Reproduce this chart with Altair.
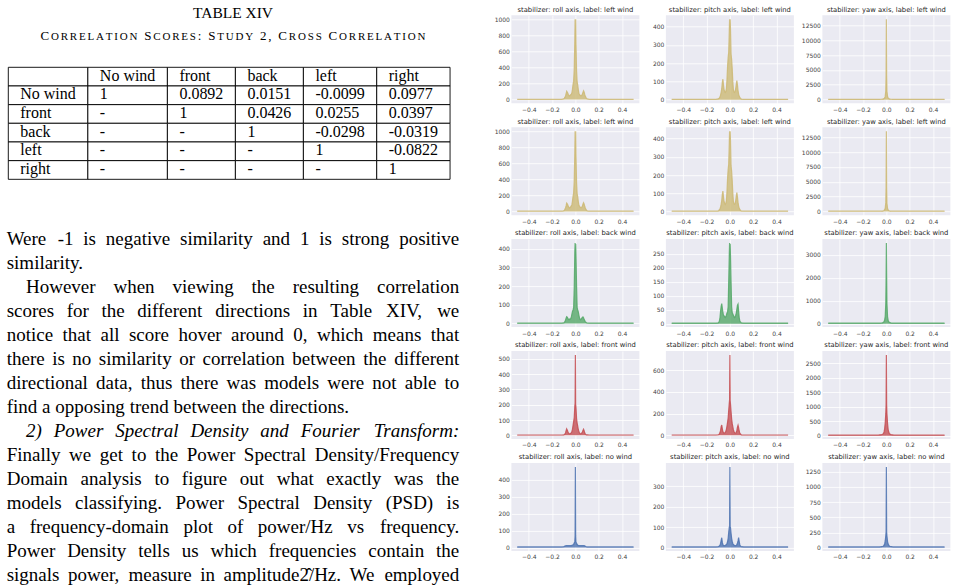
import altair as alt
import pandas as pd

# ---------------- content: correlation table ----------------
table_title = "TABLE XIV"
table_caption = "Correlation Scores: Study 2, Cross Correlation"
table_header = ["", "No wind", "front", "back", "left", "right"]
table_row_labels = ["No wind", "front", "back", "left", "right"]
table_values = [
    ["1", "0.0892", "0.0151", "-0.0099", "0.0977"],
    ["-", "1", "0.0426", "0.0255", "0.0397"],
    ["-", "-", "1", "-0.0298", "-0.0319"],
    ["-", "-", "-", "1", "-0.0822"],
    ["-", "-", "-", "-", "1"],
]

# ---------------- content: body text ----------------
body_lines = [
    "Were -1 is negative similarity and 1 is strong positive",
    "similarity.",
    "However when viewing the resulting correlation",
    "scores for the different directions in Table XIV, we",
    "notice that all score hover around 0, which means that",
    "there is no similarity or correlation between the different",
    "directional data, thus there was models were not able to",
    "find a opposing trend between the directions.",
    "2) Power Spectral Density and Fourier Transform:",
    "Finally we get to the Power Spectral Density/Frequency",
    "Domain analysis to figure out what exactly was the",
    "models classifying. Power Spectral Density (PSD) is",
    "a frequency-domain plot of power/Hz vs frequency.",
    "Power Density tells us which frequencies contain the",
    "signals power, measure in amplitude2\u0302/Hz. We employed",
]
indented_lines = [2, 8]
italic_lines = [8]
ragged_lines = [1, 7]

# ---------------- content: spectra ----------------
freqs = [-0.5, -0.12, -0.1, -0.095, -0.09, -0.085, -0.08, -0.075, -0.07, -0.065,
         -0.06, -0.055, -0.05, -0.045, -0.04, -0.035, -0.03, -0.025, -0.02, -0.015,
         -0.01, -0.005, -0.0025, 0.0, 0.0025, 0.005, 0.01, 0.015, 0.02, 0.025,
         0.03, 0.035, 0.04, 0.045, 0.05, 0.055, 0.06, 0.065, 0.07, 0.075,
         0.08, 0.085, 0.09, 0.095, 0.1, 0.12, 0.5]

psd_left_roll = [4, 4, 10, 18, 28, 45, 70, 105, 95, 80, 60, 50, 45, 55, 60, 70, 85, 130, 190, 230, 380, 720, 1000,
                 880,
                 1000, 700, 360, 220, 185, 125, 80, 65, 55, 50, 48, 55, 70, 90, 110, 95, 65, 45, 30, 18, 10, 4, 4]
psd_left_pitch = [2, 2, 4, 6, 10, 15, 25, 40, 60, 95, 112, 80, 55, 45, 40, 45, 60, 110, 180, 230, 260, 380, 440,
                  400,
                  440, 390, 250, 220, 170, 100, 55, 42, 40, 45, 60, 85, 104, 80, 50, 30, 20, 12, 8, 5, 3, 2, 2]
psd_left_yaw = [60, 60, 60, 60, 60, 60, 60, 60, 60, 60, 60, 60, 65, 70, 75, 85, 100, 130, 190, 300, 550, 1500, 4200,
                13500,
                4000, 1400, 520, 290, 180, 125, 95, 80, 72, 66, 62, 60, 60, 60, 60, 60, 60, 60, 60, 60, 60, 60, 60]
psd_back_roll = [2, 2, 3, 5, 10, 18, 28, 36, 34, 28, 22, 20, 24, 22, 25, 35, 50, 65, 72, 85, 190, 380, 430,
                 400,
                 425, 370, 200, 85, 72, 62, 45, 30, 22, 20, 24, 28, 32, 35, 30, 22, 15, 10, 6, 4, 3, 2, 2]
psd_back_pitch = [2, 2, 3, 5, 10, 22, 45, 62, 72, 55, 40, 30, 28, 25, 22, 25, 30, 38, 42, 60, 150, 250, 288,
                  250,
                  285, 245, 150, 60, 40, 35, 30, 25, 22, 24, 30, 38, 52, 66, 70, 45, 22, 10, 6, 4, 3, 2, 2]
psd_back_yaw = [25, 25, 25, 25, 25, 25, 25, 25, 25, 25, 25, 25, 28, 30, 32, 38, 45, 60, 90, 160, 320, 900, 2000,
                3500,
                2050, 880, 300, 150, 85, 58, 44, 36, 31, 28, 26, 25, 25, 25, 25, 25, 25, 25, 25, 25, 25, 25, 25]
psd_front_roll = [2, 2, 3, 5, 8, 15, 30, 42, 35, 25, 16, 12, 10, 11, 13, 18, 25, 40, 65, 90, 115, 190, 210,
                  525,
                  200, 185, 110, 80, 60, 38, 24, 16, 12, 10, 12, 15, 22, 32, 40, 30, 16, 8, 5, 3, 3, 2, 2]
psd_front_pitch = [3, 3, 5, 8, 14, 25, 45, 80, 95, 60, 35, 25, 20, 22, 28, 38, 55, 85, 120, 160, 230, 300, 330,
                   740,
                   320, 290, 220, 150, 110, 80, 52, 36, 26, 20, 20, 28, 45, 75, 92, 70, 40, 22, 12, 7, 4, 3, 3]
psd_front_yaw = [25, 25, 25, 25, 25, 25, 25, 25, 25, 26, 28, 30, 32, 35, 40, 48, 60, 80, 130, 240, 450, 780, 1100,
                 2790,
                 1050, 760, 420, 220, 125, 82, 58, 46, 39, 34, 30, 28, 26, 25, 25, 25, 25, 25, 25, 25, 25, 25, 25]
psd_none_roll = [3, 3, 4, 6, 8, 9, 10, 10, 10, 10, 10, 10, 10, 10, 11, 11, 12, 13, 15, 18, 26, 34, 70,
                 475,
                 68, 32, 25, 17, 14, 12, 11, 11, 10, 10, 10, 10, 10, 10, 10, 10, 9, 7, 5, 4, 3, 3, 3]
psd_none_pitch = [3, 3, 4, 6, 8, 12, 20, 35, 48, 25, 14, 10, 9, 9, 10, 12, 15, 20, 28, 45, 75, 100, 105,
                  395,
                  102, 98, 70, 45, 30, 20, 15, 12, 10, 9, 9, 11, 14, 22, 32, 48, 30, 14, 8, 5, 4, 3, 3]
psd_none_yaw = [12, 12, 12, 12, 12, 12, 12, 12, 12, 12, 12, 13, 14, 15, 16, 18, 22, 28, 40, 60, 110, 200, 260,
                1330,
                250, 190, 100, 58, 40, 28, 21, 18, 16, 15, 14, 13, 12, 12, 12, 12, 12, 12, 12, 12, 12, 12, 12]

panel_series = [
    [psd_left_roll, psd_left_pitch, psd_left_yaw],
    [psd_left_roll, psd_left_pitch, psd_left_yaw],
    [psd_back_roll, psd_back_pitch, psd_back_yaw],
    [psd_front_roll, psd_front_pitch, psd_front_yaw],
    [psd_none_roll, psd_none_pitch, psd_none_yaw],
]
panel_labels = ["left wind", "left wind", "back wind", "front wind", "no wind"]
panel_axes = ["roll", "pitch", "yaw"]
panel_colors = ["#CCB974", "#CCB974", "#55A868", "#C44E52", "#4C72B0"]
ytick_steps = [[200, 100, 2500], [200, 100, 2500], [100, 50, 1000], [100, 200, 500], [100, 100, 250]]
x_ticks = [-0.4, -0.2, 0.0, 0.2, 0.4]

for row in panel_series:
    for s in row:
        assert len(s) == len(freqs)

# ---------------- text metrics (Times / Liberation Serif advance widths) ----------------
_ROMAN = {' ': 250, '!': 333, '(': 333, ')': 333, ',': 250, '-': 333, '.': 250, '/': 278, ':': 278,
          'A': 722, 'B': 667, 'C': 667, 'D': 722, 'E': 611, 'F': 556, 'G': 722, 'H': 722, 'I': 333,
          'J': 389, 'K': 722, 'L': 611, 'M': 889, 'N': 722, 'O': 722, 'P': 556, 'Q': 722, 'R': 667,
          'S': 556, 'T': 611, 'U': 722, 'V': 722, 'W': 944, 'X': 722, 'Y': 722, 'Z': 611,
          'a': 444, 'b': 500, 'c': 444, 'd': 500, 'e': 444, 'f': 333, 'g': 500, 'h': 500, 'i': 278,
          'j': 278, 'k': 500, 'l': 278, 'm': 778, 'n': 500, 'o': 500, 'p': 500, 'q': 500, 'r': 333,
          's': 389, 't': 278, 'u': 500, 'v': 500, 'w': 722, 'x': 500, 'y': 500, 'z': 444}
_ITALIC = {':': 333, 'P': 611, 'S': 500, 'D': 722, 'F': 611, 'T': 556, 'a': 500, 'k': 444, 'm': 722,
           'r': 389, 'v': 444, 'w': 667, 'x': 444, 'y': 444, 'z': 389}


def text_width(s, size, italic=False):
    tot = 0
    for ch in s:
        if ch == "\u0302":
            continue
        if italic and ch in _ITALIC:
            tot += _ITALIC[ch]
        else:
            tot += _ROMAN.get(ch, 500)
    return tot * size / 1000.0


# ---------------- left page layout (origin = top of first spectrum plot row) ----------------
SERIF = "Liberation Serif"
W, H = 452.6, 573
BODY_FS, TABLE_FS, TITLE_FS = 19, 16, 15.5
CAP_BIG, CAP_SMALL, CAP_W = 13.0, 11.0, 385.0

sx = alt.Scale(domain=[0, W], range=[0, W])
sy = alt.Scale(domain=[0, H], range=[0, H])

df_title = pd.DataFrame({"text": [table_title], "x": [W / 2], "y": [2.3]})

# caption in small caps: first letters large, other letters small capitals
cap_chars = []
prev_break = True
for ch in table_caption:
    if ch == " ":
        cap_chars.append((" ", "big"))
        prev_break = True
        continue
    if ch.isalpha() and not prev_break:
        cap_chars.append((ch.upper(), "small"))
    else:
        cap_chars.append((ch.upper(), "big"))
    prev_break = False
cap_widths = [text_width(c, CAP_BIG if k == "big" else CAP_SMALL) for c, k in cap_chars]
track = (CAP_W - sum(cap_widths)) / (len(cap_chars) - 1)
cx = W / 2 - CAP_W / 2
cap_rows = []
for (c, k), w in zip(cap_chars, cap_widths):
    if c != " ":
        cap_rows.append({"text": c, "kind": k, "x": cx, "y": 24.3})
    cx += w + track
df_caption = pd.DataFrame(cap_rows)

# table
grid_text = [table_header] + [[lab] + vals for lab, vals in zip(table_row_labels, table_values)]
PAD = 12
col_w = [max(text_width(grid_text[r][c], TABLE_FS) for r in range(len(grid_text))) + 2 * PAD
         for c in range(len(table_header))]
x_edges = [1.6]
for w in col_w:
    x_edges.append(x_edges[-1] + w)
ROW_H, TY0 = 18.67, 52.0
cell_rows, cell_text = [], []
for r, row in enumerate(grid_text):
    for c, t in enumerate(row):
        y0 = TY0 + r * ROW_H
        cell_rows.append({"x0": x_edges[c], "x1": x_edges[c + 1], "y0": y0, "y1": y0 + ROW_H})
        if t:
            cell_text.append({"text": t, "x": x_edges[c] + PAD, "y": y0 + 13.4})
df_cells = pd.DataFrame(cell_rows)
df_cell_text = pd.DataFrame(cell_text)

# body text, justified word by word
BODY_Y0, LINE_H, INDENT = 230.0, 23.98, 19.3
word_rows = []
for i, line in enumerate(body_lines):
    it = i in italic_lines
    words = line.split(" ")
    widths = [text_width(w, BODY_FS, it) for w in words]
    x = INDENT if i in indented_lines else 0.0
    justify = i not in ragged_lines and len(words) > 1
    gap = (W - x - sum(widths)) / (len(words) - 1) if justify else text_width(" ", BODY_FS, it)
    for j, (w, ww) in enumerate(zip(words, widths)):
        last = justify and j == len(words) - 1
        word_rows.append({"text": w, "x": W if last else x, "y": BODY_Y0 + i * LINE_H,
                          "style": "italic" if it else "normal", "anchor": "right" if last else "left"})
        x += ww + gap
df_words = pd.DataFrame(word_rows)


def text_layer(df, **mark):
    return alt.Chart(df).mark_text(font=SERIF, color="black", baseline="alphabetic", **mark).encode(
        x=alt.X("x:Q", scale=sx, axis=None),
        y=alt.Y("y:Q", scale=sy, axis=None),
        text="text:N",
    )


layers = [
    text_layer(df_title, fontSize=TITLE_FS, align="center"),
    text_layer(df_caption, fontSize=CAP_BIG, align="left").transform_filter("datum.kind == 'big'"),
    text_layer(df_caption, fontSize=CAP_SMALL, align="left").transform_filter("datum.kind == 'small'"),
    alt.Chart(df_cells).mark_rect(fill="white", stroke="black", strokeWidth=0.9).encode(
        x=alt.X("x0:Q", scale=sx, axis=None), x2="x1:Q",
        y=alt.Y("y0:Q", scale=sy, axis=None), y2="y1:Q"),
    text_layer(df_cell_text, fontSize=TABLE_FS, align="left"),
]
for style in ["normal", "italic"]:
    for anchor in ["left", "right"]:
        layers.append(
            text_layer(df_words, fontSize=BODY_FS, align=anchor, fontStyle=style).transform_filter(
                f"datum.style == '{style}' && datum.anchor == '{anchor}'"))

left_page = alt.layer(*layers).properties(width=W, height=H)

# ---------------- spectrum grid ----------------
PW, PH = 128, 88


def spectrum_panel(title, vals, color, step):
    lo, hi = min(vals), max(vals)
    span = hi - lo
    dom = [lo - 0.05 * span, hi + 0.05 * span]
    ticks = list(range(0, int(hi) + 1, step))
    df = pd.DataFrame({"freq": freqs, "psd": vals})
    base = alt.Chart(df).encode(
        x=alt.X("freq:Q", scale=alt.Scale(domain=[-0.55, 0.55], nice=False, zero=False),
                axis=alt.Axis(values=x_ticks, title=None,
                              labelExpr="replace(format(datum.value, '.1f'), '-', '\u2212')")),
        y=alt.Y("psd:Q", scale=alt.Scale(domain=dom, nice=False, zero=False),
                axis=alt.Axis(values=ticks, title=None, format="d")),
    )
    area = base.mark_area(color=color, opacity=0.8).encode(y2=alt.datum(0))
    line = base.mark_line(color=color, strokeWidth=1.2, opacity=0.85)
    return alt.layer(area, line).properties(
        width=PW, height=PH,
        title=alt.TitleParams(title, fontSize=6.8, font="DejaVu Sans", fontWeight="normal",
                              color="#262626", offset=1.8, anchor="middle"),
        view=alt.ViewBackground(fill="#EAEAF2", strokeWidth=0),
    )


panels = []
for r in range(5):
    for c in range(3):
        t = f"stabilizer: {panel_axes[c]} axis, label: {panel_labels[r]}"
        panels.append(spectrum_panel(t, panel_series[r][c], panel_colors[r], ytick_steps[r][c]))

grid = alt.concat(*panels, columns=3, spacing={"row": 4.9, "column": 6.5})

chart = alt.hconcat(
    left_page, grid, spacing=51.7, bounds="flush",
    padding={"left": 6.7, "top": 5.3, "right": 0, "bottom": 0},
).configure_view(strokeWidth=0).configure_axis(
    domain=False, ticks=False, grid=True, gridColor="#FFFFFF", gridWidth=0.8,
    labelFont="DejaVu Sans", labelFontSize=6, labelColor="#444444",
).configure_axisX(labelPadding=3, minExtent=10, maxExtent=10).configure_axisY(
    labelPadding=2, minExtent=20, maxExtent=20)

chart.save("out.html", embed_options={"renderer": "svg", "actions": False})
